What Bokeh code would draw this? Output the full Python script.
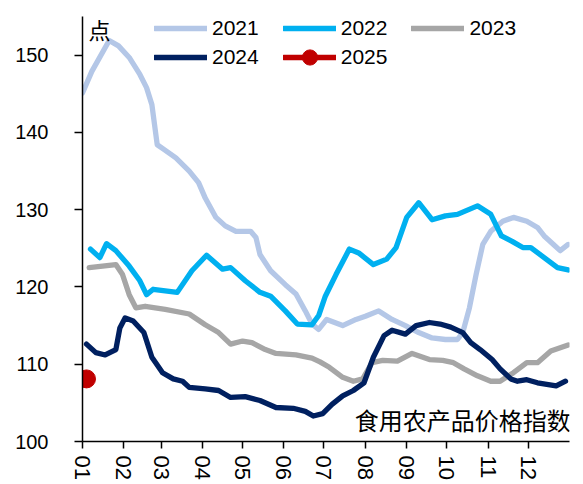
from bokeh.plotting import figure
from bokeh.models import Legend, LegendItem, FixedTicker, Label
from bokeh.embed import file_html
from bokeh.resources import INLINE

# ---- data (x = day of year, 0 = 1 Jan) ----
month_start_days = [0, 31, 59, 90, 120, 151, 181, 212, 243, 273, 304, 334]
month_labels = ["01", "02", "03", "04", "05", "06", "07", "08", "09", "10", "11", "12"]
y_ticks = [100, 110, 120, 130, 140, 150]

days_2021 = [0, 7, 20, 27, 35, 43, 48, 52, 56, 61, 70, 80, 87, 92, 100, 107, 115, 126, 130, 133,
             141, 152, 160, 167, 172, 177, 183, 195, 205, 212, 222, 232, 242, 252, 262, 272, 281, 285, 290, 295,
             300, 306, 315, 323, 333, 341, 346, 353, 358, 364]
vals_2021 = [145.1, 147.9, 151.9, 151.2, 149.7, 147.5, 145.8, 143.6, 138.4, 137.8,
             136.7, 135.0, 133.5, 131.5, 129.0, 127.9, 127.2, 127.2, 126.4, 124.2,
             122.1, 120.3, 119.1, 116.9, 115.2, 114.5, 115.8, 115.0, 115.8, 116.2,
             116.9, 115.8, 115.0, 114.1, 113.4, 113.2, 113.2, 114.1, 117.3, 121.6,
             125.5, 127.2, 128.5, 129.0, 128.5, 127.7, 126.6, 125.5, 124.7, 125.5]

days_2022 = [6, 13, 18, 25, 35, 43, 48, 53, 62, 71, 82, 93, 105, 111, 122, 133, 141, 152, 161, 172,
             177, 182, 190, 200, 207, 218, 228, 235, 243, 252, 262, 272, 281, 296, 306, 314, 322, 330, 336, 346,
             356, 364]
vals_2022 = [124.9, 123.8, 125.6, 124.7, 122.7, 120.8, 119.0, 119.7, 119.5, 119.3,
             122.1, 124.1, 122.3, 122.5, 120.8, 119.3, 118.8, 116.9, 115.2, 115.1,
             116.3, 118.8, 121.6, 124.9, 124.4, 122.9, 123.6, 125.1, 129.0, 130.9,
             128.7, 129.2, 129.4, 130.5, 129.4, 126.6, 125.9, 125.1, 125.1, 123.8,
             122.5, 122.2]

days_2023 = [5, 15, 25, 30, 35, 40, 47, 62, 80, 92, 102, 111, 120, 127, 137, 145, 160, 172, 178, 185,
             195, 203, 210, 217, 225, 236, 247, 260, 270, 278, 286, 296, 306, 313, 323, 333, 341, 351, 364]
vals_2023 = [122.5, 122.7, 122.9, 121.6, 119.0, 117.3, 117.5, 117.1, 116.5, 115.1,
             114.1, 112.6, 113.0, 112.8, 111.9, 111.4, 111.2, 110.8, 110.3, 109.6,
             108.3, 107.8, 108.1, 110.2, 110.5, 110.4, 111.4, 110.6, 110.5, 110.2,
             109.4, 108.5, 107.8, 107.8, 108.9, 110.2, 110.2, 111.7, 112.5]

days_2024 = [3, 10, 17, 25, 28, 32, 38, 46, 52, 60, 68, 75, 80, 92, 102, 111, 122, 133, 145, 158,
             167, 173, 180, 187, 195, 203, 211, 218, 226, 232, 242, 250, 260, 268, 276, 285, 291, 298, 307, 313,
             321, 326, 333, 341, 348, 355, 362]
vals_2024 = [112.6, 111.5, 111.2, 111.9, 114.7, 116.0, 115.6, 114.1, 110.9, 108.9,
             108.1, 107.8, 107.0, 106.8, 106.6, 105.7, 105.8, 105.3, 104.4, 104.3,
             103.9, 103.3, 103.6, 104.8, 105.9, 106.6, 107.6, 110.9, 113.7, 114.4,
             113.9, 115.0, 115.4, 115.2, 114.8, 114.1, 112.8, 111.9, 110.6, 109.4,
             108.1, 107.8, 108.0, 107.6, 107.4, 107.2, 107.8]

days_2025 = [3]
vals_2025 = [108.1]

colors = {"2021": "#B4C7E7", "2022": "#00B0F0", "2023": "#A6A6A6", "2024": "#002060", "2025": "#C00000"}

FONT = "Liberation Sans"
CJK = "Noto Sans CJK SC"

p = figure(width=583, height=484, x_range=(0, 365), y_range=(100, 155),
           output_backend="svg", toolbar_location=None,
           min_border_left=82, min_border_right=14, min_border_top=16, min_border_bottom=43)
p.grid.visible = False
p.outline_line_color = None
p.background_fill_color = "white"
p.border_fill_color = "white"

lw = 5.3
r21 = p.line(days_2021, vals_2021, line_color=colors["2021"], line_width=lw, line_cap="round", line_join="round")
r22 = p.line(days_2022, vals_2022, line_color=colors["2022"], line_width=lw, line_cap="round", line_join="round")
r23 = p.line(days_2023, vals_2023, line_color=colors["2023"], line_width=lw, line_cap="round", line_join="round")
r24 = p.line(days_2024, vals_2024, line_color=colors["2024"], line_width=lw, line_cap="round", line_join="round")
r25l = p.line(days_2025, vals_2025, line_color=colors["2025"], line_width=lw, line_cap="round")
r25s = p.scatter(days_2025, vals_2025, marker="circle", size=18, fill_color=colors["2025"], line_color=colors["2025"])

# axes
p.xaxis.ticker = FixedTicker(ticks=month_start_days)
p.xaxis.major_label_overrides = {d: l for d, l in zip(month_start_days, month_labels)}
p.xaxis.major_label_orientation = "vertical"
p.xaxis.minor_tick_line_color = None
p.xaxis.major_tick_in = 0
p.xaxis.major_tick_out = 7
p.xaxis.major_label_standoff = 7
p.xaxis.major_label_text_font_size = "22px"
p.yaxis.ticker = FixedTicker(ticks=y_ticks)
p.yaxis.minor_tick_line_color = None
p.yaxis.major_tick_in = 0
p.yaxis.major_tick_out = 8
p.yaxis.major_label_standoff = 26
p.yaxis.major_label_text_font_size = "20px"
for ax in (p.xaxis, p.yaxis):
    ax.axis_line_color = "black"
    ax.axis_line_width = 1.5
    ax.major_tick_line_color = "black"
    ax.major_tick_line_width = 1.5
    ax.major_label_text_font = FONT
    ax.major_label_text_color = "black"

# legends (two rows)
leg_common = dict(orientation="horizontal", glyph_width=53, label_standoff=5,
                  spacing=24, padding=0, margin=0, border_line_color=None, background_fill_alpha=0,
                  label_text_font=FONT, label_text_font_size="21px", label_text_color="black",
                  label_height=20)
leg1 = Legend(items=[LegendItem(label="2021", renderers=[r21]),
                     LegendItem(label="2022", renderers=[r22]),
                     LegendItem(label="2023", renderers=[r23])],
              location=(72, 401), glyph_height=20, **leg_common)
leg2 = Legend(items=[LegendItem(label="2024", renderers=[r24]),
                     LegendItem(label="2025", renderers=[r25l, r25s])],
              location=(72, 365), glyph_height=38, **leg_common)
p.add_layout(leg1)
p.add_layout(leg2)

p.add_layout(Label(x=4.5, y=155.4, text="点", text_font=CJK, text_font_size="22px",
                   text_baseline="top", text_align="left", text_color="black"))
p.add_layout(Label(x=366, y=102.8, text="食用农产品价格指数", text_font=CJK, text_font_size="24px",
                   text_baseline="middle", text_align="right", text_color="black"))

open("out.html", "w").write(file_html(p, INLINE))
